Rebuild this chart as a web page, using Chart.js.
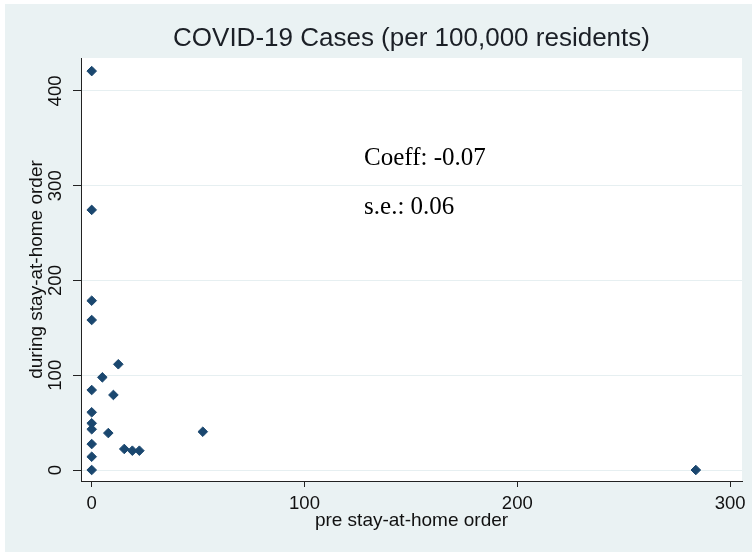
<!DOCTYPE html>
<html>
<head>
<meta charset="utf-8">
<script src="https://cdn.jsdelivr.net/npm/chart.js@4/dist/chart.umd.min.js"></script>
<style>
  html, body { margin: 0; padding: 0; background: #ffffff; }
  #wrap { width: 752px; height: 554px; }
</style>
</head>
<body>
<div id="wrap"><canvas id="c" width="752" height="554"></canvas></div>
<script>
// ---- data ----
const chartTitle = 'COVID-19 Cases (per 100,000 residents)';
const xAxisTitle = 'pre stay-at-home order';
const yAxisTitle = 'during stay-at-home order';
const preOrder    = [0, 0, 0, 0, 12.5, 5, 0, 10.2, 0, 0, 0, 7.8, 52.2, 0, 15.3, 19.1, 22.4, 0, 0, 283.9];
const duringOrder = [421, 274.5, 178.7, 158.3, 111.6, 97.8, 84.4, 79.2, 60.9, 49.3, 43, 39, 40.4, 27.4, 22.2, 20.4, 20.4, 14, 0, 0];
const xTicks = [0, 100, 200, 300];
const yTicks = [0, 100, 200, 300, 400];
const annotationText = ['Coeff: -0.07', 's.e.: 0.06'];
const annotationX = 128;
const annotationY = [322, 270];

const points = preOrder.map((x, i) => ({ x: x, y: duringOrder[i] }));

const SANS = "'Liberation Sans', Arial, sans-serif";
const SERIF = "'Liberation Serif', 'Times New Roman', serif";
const OUTER = '#eaf2f3';
const NAVY = '#1a476f';

const backgroundPlugin = {
  id: 'bg',
  beforeDraw(chart) {
    const ctx = chart.ctx, a = chart.chartArea;
    ctx.save();
    ctx.fillStyle = '#ffffff';
    ctx.fillRect(0, 0, chart.width, chart.height);
    ctx.fillStyle = OUTER;
    ctx.fillRect(5, 4, chart.width - 5, chart.height - 6);
    ctx.fillStyle = '#ffffff';
    ctx.fillRect(a.left, a.top, a.right - a.left, a.bottom - a.top);
    ctx.restore();
  }
};

const textPlugin = {
  id: 'texts',
  afterDraw(chart) {
    const ctx = chart.ctx;
    const xs = chart.scales.x, ys = chart.scales.y;
    ctx.save();
    // rotated y tick labels
    ctx.font = '18.5px ' + SANS;
    ctx.fillStyle = '#111111';
    ctx.textAlign = 'center';
    ctx.textBaseline = 'middle';
    const lx = chart.chartArea.left - 24.8;
    yTicks.forEach(v => {
      const py = ys.getPixelForValue(v);
      ctx.save();
      ctx.translate(lx, py);
      ctx.rotate(-Math.PI / 2);
      ctx.fillText(String(v), 0, 0);
      ctx.restore();
    });
    // annotation
    ctx.font = '25px ' + SERIF;
    ctx.fillStyle = '#000000';
    ctx.textAlign = 'left';
    ctx.textBaseline = 'alphabetic';
    annotationText.forEach((t, i) => {
      ctx.fillText(t, xs.getPixelForValue(annotationX), ys.getPixelForValue(annotationY[i]));
    });
    ctx.restore();
  }
};

new Chart(document.getElementById('c'), {
  type: 'scatter',
  data: {
    datasets: [{
      data: points,
      pointStyle: 'rectRot',
      pointRadius: 4.8,
      pointBorderWidth: 1,
      backgroundColor: NAVY,
      borderColor: NAVY
    }]
  },
  options: {
    responsive: false,
    animation: false,
    devicePixelRatio: 1,
    layout: { padding: { left: 0, right: 10, top: 0, bottom: 0 } },
    plugins: {
      legend: { display: false },
      tooltip: { enabled: false },
      title: {
        display: true,
        fullSize: false,
        text: chartTitle,
        color: '#1b1f26',
        font: { family: SANS, size: 26, weight: 'normal', lineHeight: 1.2 },
        padding: { top: 23.4, bottom: 3.4 }
      }
    },
    scales: {
      x: {
        type: 'linear',
        min: -5.03,
        max: 305.6,
        afterBuildTicks: s => { s.ticks = xTicks.map(v => ({ value: v })); },
        afterFit: s => { s.height = 73; },
        grid: { display: true, drawOnChartArea: false, drawTicks: true, tickLength: 6, tickColor: '#222222', tickWidth: 1 },
        border: { display: true, color: '#222222', width: 1 },
        ticks: {
          color: '#111111',
          font: { family: SANS, size: 18.5, lineHeight: 1.2 },
          padding: 6.3,
          maxRotation: 0,
          minRotation: 0,
          callback: v => String(v)
        },
        title: {
          display: true,
          text: xAxisTitle,
          color: '#111111',
          font: { family: SANS, size: 19, lineHeight: 1.2 },
          padding: { top: 0, bottom: 22.2 }
        }
      },
      y: {
        type: 'linear',
        min: -11.6,
        max: 434.8,
        afterBuildTicks: s => { s.ticks = yTicks.map(v => ({ value: v })); },
        afterFit: s => { s.width = 81; },
        grid: { display: true, drawOnChartArea: true, color: '#e6eff1', lineWidth: 1, drawTicks: true, tickLength: 8, tickColor: '#222222', tickWidth: 1 },
        border: { display: true, color: '#222222', width: 1 },
        ticks: { display: false },
        title: {
          display: true,
          text: yAxisTitle,
          color: '#111111',
          font: { family: SANS, size: 19, lineHeight: 1.2 },
          padding: { top: 25.6, bottom: 0 }
        }
      }
    }
  },
  plugins: [backgroundPlugin, textPlugin]
});
</script>
</body>
</html>
